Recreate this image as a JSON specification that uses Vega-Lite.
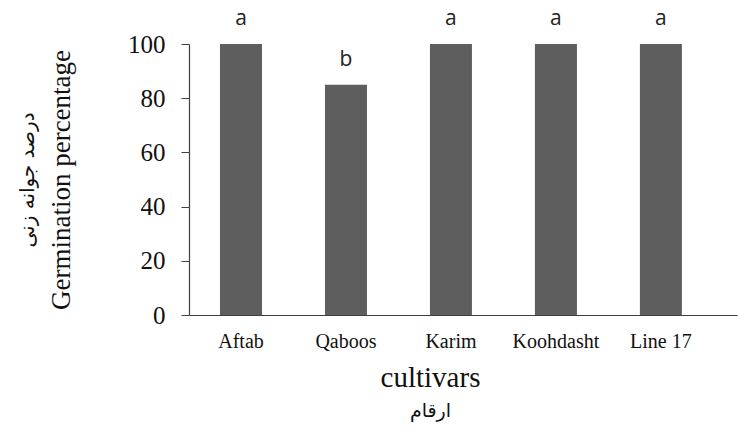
{
  "$schema": "https://vega.github.io/schema/vega-lite/v6.json",
  "autosize": "none",
  "padding": {"left": 189, "top": 44, "right": 1, "bottom": 113},
  "width": 548,
  "height": 271,
  "background": "white",
  "data": {
    "values": [
      {"cultivar": "Aftab", "value": 100, "letter": "a"},
      {"cultivar": "Qaboos", "value": 85, "letter": "b"},
      {"cultivar": "Karim", "value": 100, "letter": "a"},
      {"cultivar": "Koohdasht", "value": 100, "letter": "a"},
      {"cultivar": "Line 17", "value": 100, "letter": "a"}
    ]
  },
  "config": {"view": {"stroke": null}},
  "resolve": {"axis": {"x": "independent", "y": "independent"}},
  "layer": [
    {
      "mark": {"type": "bar", "color": "#5e5e5e"},
      "encoding": {
        "x": {
          "field": "cultivar", "type": "nominal", "sort": null,
          "scale": {"paddingInner": 0.6, "paddingOuter": 0.41, "align": 0.36},
          "axis": {
            "orient": "bottom",
            "title": "cultivars", "titleFont": "Liberation Serif", "titleFontSize": 29, "titleFontWeight": "normal", "titleColor": "#111",
            "titlePadding": 12, "titleX": 241,
            "labelFont": "Liberation Serif", "labelFontSize": 20, "labelColor": "#111", "labelAngle": 0, "labelPadding": 16,
            "ticks": false, "domainColor": "#404040", "domainWidth": 1.2, "grid": false
          }
        },
        "y": {
          "field": "value", "type": "quantitative",
          "scale": {"domain": [0, 100], "nice": false},
          "axis": {
            "orient": "left",
            "title": "Germination percentage", "titleFont": "Liberation Serif", "titleFontSize": 27, "titleFontWeight": "normal", "titleColor": "#111",
            "titlePadding": 52,
            "values": [0, 20, 40, 60, 80, 100],
            "labelFont": "Liberation Serif", "labelFontSize": 25, "labelColor": "#111", "labelPadding": 16,
            "tickSize": 8, "tickColor": "#404040", "domainColor": "#404040", "domainWidth": 1.2, "grid": false
          }
        }
      }
    },
    {
      "mark": {"type": "text", "font": "Open Sans", "fontSize": 21, "color": "#222", "baseline": "alphabetic", "dy": -19},
      "encoding": {
        "x": {
          "field": "cultivar", "type": "nominal", "sort": null,
          "axis": {
            "orient": "bottom",
            "title": "ارقام", "titleFont": "DejaVu Sans", "titleFontSize": 19, "titleFontWeight": "normal", "titleColor": "#111",
            "titlePadding": 86, "titleX": 241,
            "labels": false, "ticks": false, "domain": false, "grid": false
          }
        },
        "y": {
          "field": "value", "type": "quantitative",
          "axis": {
            "orient": "left",
            "title": "درصد جوانه زنی", "titleFont": "DejaVu Sans", "titleFontSize": 20, "titleFontWeight": "normal", "titleColor": "#111",
            "titlePadding": 152,
            "labels": false, "ticks": false, "domain": false, "grid": false
          }
        },
        "text": {"field": "letter"}
      }
    }
  ]
}
